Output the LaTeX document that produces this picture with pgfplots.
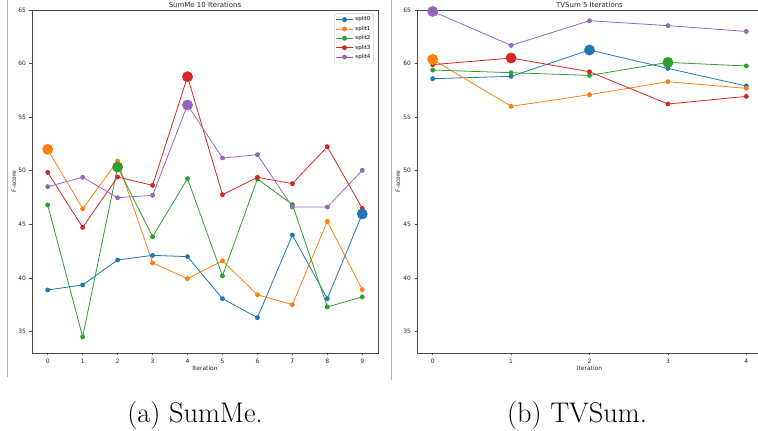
\documentclass[border=0pt]{standalone}
\usepackage{pgfplots}
\pgfplotsset{compat=1.18}
\usepackage{fontspec}
\newfontfamily\dejavu{DejaVu Sans}
\definecolor{c0}{HTML}{1F77B4}
\definecolor{c1}{HTML}{FF7F0E}
\definecolor{c2}{HTML}{2CA02C}
\definecolor{c3}{HTML}{D62728}
\definecolor{c4}{HTML}{9467BD}
\pgfplotsset{
  every axis title/.style={at={(0.5,1)}, anchor=base, yshift=2.5bp},
  mystyle/.style={
    scale only axis,
    axis line style={black!70, line width=0.8bp},
    tick style={black!70, line width=0.6bp},
    tick align=outside,
    major tick length=2.5bp,
    xtick pos=bottom, ytick pos=left,
    ticklabel style={font=\dejavu\fontsize{6}{7}\selectfont, text=black!85},
    label style={font=\dejavu\fontsize{6}{7}\selectfont, text=black!85},
    title style={font=\dejavu\fontsize{7}{8}\selectfont, text=black!85, inner sep=0pt},
    ymin=33, ymax=65, ytick={35,40,...,65},
    /pgf/number format/assume math mode=true,
    xlabel={Iteration}, ylabel={F-score},
    every axis plot/.append style={line width=0.8bp, mark=*, mark size=2bp},
  },
  big/.style={only marks, mark=*, mark size=5bp, forget plot},
}
\begin{document}
\begin{tikzpicture}
\useasboundingbox (0bp,0bp) rectangle (758bp,431bp);
\clip (0bp,0bp) rectangle (758bp,431bp);
\draw[black!30, line width=0.8bp] (7.5bp,431bp) -- (7.5bp,54bp);
\draw[black!30, line width=0.8bp] (391.5bp,431bp) -- (391.5bp,51bp);
\begin{axis}[mystyle,
  at={(32bp,78bp)}, anchor=south west, width=346bp, height=343bp,
  xmin=-0.45, xmax=9.45, xtick={0,...,9},
  title={SumMe 10 Iterations},
  xlabel style={at={(axis description cs:0.5,-0.045)}, anchor=center},
  ylabel style={at={(axis description cs:-0.052,0.5)}, anchor=center},
  legend style={at={(0.988,0.99)}, anchor=north east, font=\dejavu\fontsize{5.5}{6}\selectfont,
    draw=black!20, rounded corners=1.5bp, inner sep=1.2bp, row sep=-0.3bp, cells={anchor=west}},
  legend cell align=left,
]
\addplot[c0, mark options={fill=c0}] coordinates {(0,38.88) (1,39.35) (2,41.68) (3,42.11) (4,41.99) (5,38.07) (6,36.30) (7,44.01) (8,38.07) (9,45.97)};
\addplot[c1, mark options={fill=c1}] coordinates {(0,52.00) (1,46.46) (2,50.91) (3,41.40) (4,39.94) (5,41.60) (6,38.44) (7,37.51) (8,45.28) (9,38.91)};
\addplot[c2, mark options={fill=c2}] coordinates {(0,46.81) (1,34.50) (2,50.35) (3,43.85) (4,49.26) (5,40.20) (6,49.24) (7,46.85) (8,37.30) (9,38.23)};
\addplot[c3, mark options={fill=c3}] coordinates {(0,49.85) (1,44.72) (2,49.42) (3,48.64) (4,58.78) (5,47.77) (6,49.39) (7,48.80) (8,52.25) (9,46.49)};
\addplot[c4, mark options={fill=c4}] coordinates {(0,48.52) (1,49.39) (2,47.49) (3,47.71) (4,56.14) (5,51.19) (6,51.50) (7,46.62) (8,46.62) (9,50.04)};
\legend{split0,split1,split2,split3,split4}
\addplot[big, c0, mark options={fill=c0}] coordinates {(9,45.97)};
\addplot[big, c1, mark options={fill=c1}] coordinates {(0,52.00)};
\addplot[big, c2, mark options={fill=c2}] coordinates {(2,50.35)};
\addplot[big, c3, mark options={fill=c3}] coordinates {(4,58.78)};
\addplot[big, c4, mark options={fill=c4}] coordinates {(4,56.14)};
\end{axis}
\begin{axis}[mystyle,
  at={(417bp,78bp)}, anchor=south west, width=345bp, height=343bp,
  xmin=-0.2, xmax=4.2, xtick={0,...,4},
  title={TVSum 5 Iterations},
  xlabel style={at={(axis description cs:0.5,-0.045)}, anchor=center},
  ylabel style={at={(axis description cs:-0.055,0.5)}, anchor=center},
]
\addplot[c0, mark options={fill=c0}] coordinates {(0,58.59) (1,58.81) (2,61.27) (3,59.55) (4,57.91)};
\addplot[c1, mark options={fill=c1}] coordinates {(0,60.39) (1,56.01) (2,57.10) (3,58.31) (4,57.69)};
\addplot[c2, mark options={fill=c2}] coordinates {(0,59.40) (1,59.15) (2,58.90) (3,60.11) (4,59.78)};
\addplot[c3, mark options={fill=c3}] coordinates {(0,59.90) (1,60.52) (2,59.24) (3,56.23) (4,56.94)};
\addplot[c4, mark options={fill=c4}] coordinates {(0,64.87) (1,61.70) (2,64.00) (3,63.54) (4,63.00)};
\addplot[big, c0, mark options={fill=c0}] coordinates {(2,61.27)};
\addplot[big, c1, mark options={fill=c1}] coordinates {(0,60.39)};
\addplot[big, c2, mark options={fill=c2}] coordinates {(3,60.11)};
\addplot[big, c3, mark options={fill=c3}] coordinates {(1,60.52)};
\addplot[big, c4, mark options={fill=c4}] coordinates {(0,64.87)};
\end{axis}
\node[font=\fontsize{28.5}{32}\selectfont] at (195bp,16bp) {(a) SumMe.};
\node[font=\fontsize{28.5}{32}\selectfont] at (577bp,16bp) {(b) TVSum.};
\end{tikzpicture}
\end{document}
